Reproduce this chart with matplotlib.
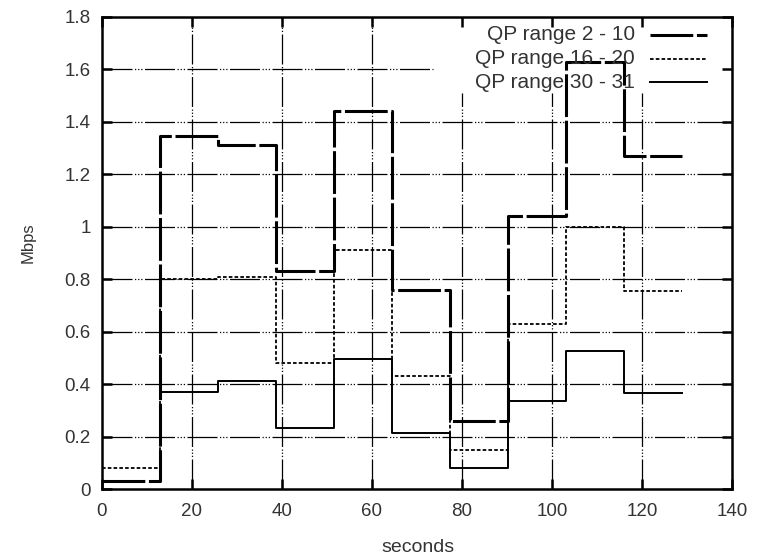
import numpy as np
import matplotlib.pyplot as plt

plt.rcParams['font.family'] = ['Liberation Sans', 'DejaVu Sans']

# step edges in seconds (one value per interval)
edges = [0, 12.9, 25.8, 38.7, 51.6, 64.5, 77.4, 90.3, 103.2, 116.1, 129]

# Mbps per interval
qp_2_10 = [0.03, 1.345, 1.31, 0.83, 1.44, 0.76, 0.26, 1.04, 1.63, 1.27]
qp_16_20 = [0.08, 0.80, 0.81, 0.48, 0.91, 0.43, 0.15, 0.63, 1.00, 0.755]
qp_30_31 = [np.nan, 0.371, 0.413, 0.232, 0.495, 0.213, 0.08, 0.337, 0.528, 0.365]

labels = ['QP range 2 - 10', 'QP range 16 - 20', 'QP range 30 - 31']
xticks = [0, 20, 40, 60, 80, 100, 120, 140]
yticks = [0, 0.2, 0.4, 0.6, 0.8, 1, 1.2, 1.4, 1.6, 1.8]
ytick_labels = ['0', '0.2', '0.4', '0.6', '0.8', '1', '1.2', '1.4', '1.6', '1.8']

styles = [
    dict(color='black', lw=2.2, dashes=(14, 1.2)),
    dict(color='black', lw=1.3, dashes=(2, 1.2)),
    dict(color='black', lw=1.4),
]

fig = plt.figure(figsize=(7.6, 5.56), dpi=100)
ax = fig.add_axes([0.134, 0.1205, 0.829, 0.849])

# gnuplot-like grid, left out behind the key
key_x, key_y = 73.5, 1.51
grid_kw = dict(color='black', lw=0.9, dashes=(24, 2, 1, 1.5, 1, 1.5, 1, 2), zorder=1)
for yv in yticks[1:-1]:
    ax.plot([0, key_x if yv > key_y else 140], [yv, yv], **grid_kw)
for xv in xticks[1:-1]:
    ax.plot([xv, xv], [0, key_y if xv > key_x else 1.8], **grid_kw)

for vals, st in zip([qp_2_10, qp_16_20, qp_30_31], styles):
    ax.step(edges, vals + [vals[-1]], where='post', zorder=3, **st)

ax.set_xlim(0, 140)
ax.set_ylim(0, 1.8)
ax.set_xticks(xticks)
ax.set_yticks(yticks)
ax.set_yticklabels(ytick_labels)
ax.tick_params(direction='in', length=7, width=1.8, top=True, right=True,
               labelsize=13.5, labelcolor='#333333')
ax.tick_params(axis='x', pad=10)
ax.tick_params(axis='y', pad=8)
for sp in ax.spines.values():
    sp.set_linewidth(1.8)

# key, right-aligned text with sample on the right
rows = [0.962, 0.911, 0.862]
for lab, st, ry in zip(labels, styles, rows):
    ax.text(0.846, ry, lab, transform=ax.transAxes, ha='right', va='center',
            fontsize=15, color='#333333', zorder=4)
    ax.plot([0.870, 0.961], [ry, ry], transform=ax.transAxes, zorder=4, **st)

fig.text(418 / 760, 1 - 548 / 556, 'seconds', ha='center', va='center',
         fontsize=14, color='#333333')
fig.text(28 / 760, 1 - 243 / 556, 'Mbps', ha='center', va='center',
         rotation=90, fontsize=12, color='#333333')

fig.savefig('out.png', dpi=100)
